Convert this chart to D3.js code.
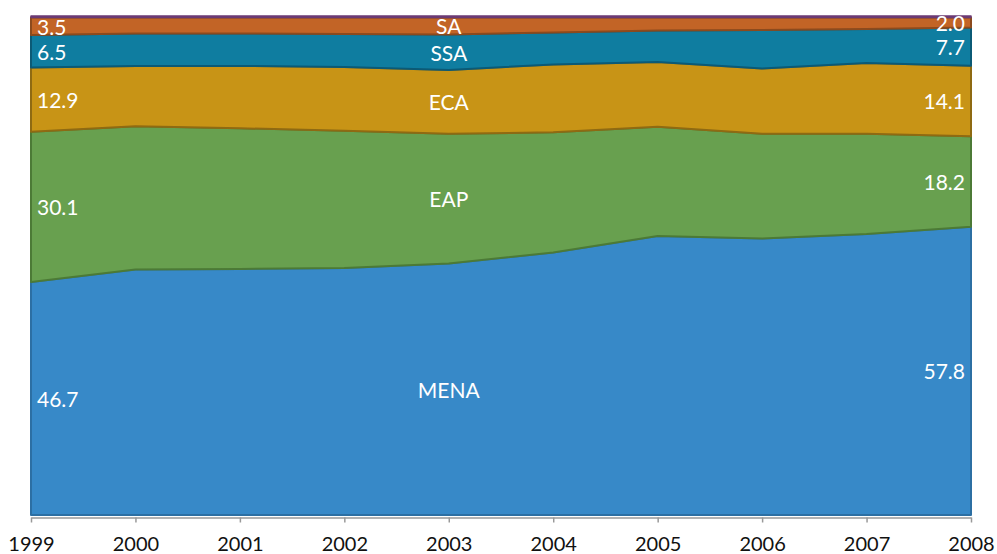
<!DOCTYPE html>
<html><head><meta charset="utf-8">
<script src="https://cdn.jsdelivr.net/npm/d3@7/dist/d3.min.js"></script>
<style>
html,body{margin:0;padding:0;background:#fff;}
svg{display:block;font-family:Lato,"Open Sans",sans-serif;}
</style></head>
<body><svg id="c" width="997" height="554"></svg>
<script>
const years = [1999,2000,2001,2002,2003,2004,2005,2006,2007,2008];
const seriesNames = ["MENA","EAP","ECA","SSA","SA","Other"];
const MENA  = [46.7,49.2,49.3,49.5,50.4,52.6,55.9,55.4,56.3,57.8];
const EAP   = [30.1,28.7,28.2,27.5,26.0,24.1,21.9,21.0,20.1,18.2];
const ECA   = [12.9,12.1,12.5,12.8,12.8,13.6,13.0,13.1,14.2,14.1];
const SSA   = [6.5,6.5,6.5,6.6,7.1,6.4,6.3,7.7,6.8,7.7];
const SA    = [3.5,3.2,3.2,3.3,3.4,3.0,2.6,2.5,2.3,2.0];
const Other = [0.3,0.3,0.3,0.3,0.3,0.3,0.3,0.3,0.3,0.3];
const fills   = ["#3789c8","#68a04f","#c89416","#0f7da0","#c26426","#6b3a74"];
const strokes = ["#2c6fa3","#4c7a36","#8f6a12","#0b5a76","#8c4a1d","#6b3a74"];
const labelYear = 2003;

const svg = d3.select("#c");
const x = d3.scaleLinear().domain([1999,2008]).range([31,971]);
const y = d3.scaleLinear().domain([0,1]).range([515,16]);

const arrays = [MENA,EAP,ECA,SSA,SA,Other];
const table = years.map((yr,i)=>{
  const o = {year:yr};
  seriesNames.forEach((n,k)=>o[n]=arrays[k][i]);
  return o;
});
const stack = d3.stack().keys(seriesNames).offset(d3.stackOffsetExpand);
const layers = stack(table);

const area = d3.area()
  .x(d=>x(d.data.year))
  .y0(d=>y(d[0]))
  .y1(d=>y(d[1]));

svg.append("g").selectAll("path").data(layers).join("path")
  .attr("d",area)
  .attr("fill",(d,i)=>fills[i])
  .attr("stroke",(d,i)=>strokes[i])
  .attr("stroke-width",(d,i)=> i===5 ? 1.5 : 2)
  .attr("stroke-linejoin","round");

// axis
const ax = d3.axisBottom(x).tickValues(years).tickFormat(d3.format("d")).tickSize(5).tickSizeOuter(0);
const g = svg.append("g").attr("transform","translate(0,517.5)").call(ax);
g.select(".domain").attr("stroke","#999").attr("stroke-width",1.5);
g.selectAll(".tick text").attr("fill","#111").attr("font-size",20).attr("y",0).attr("dy",0)
  .attr("transform","translate(0,33)").attr("font-family","Lato,sans-serif");
g.selectAll(".tick line").attr("stroke","#999").attr("stroke-width",1.5);

// labels
const lab = svg.append("g").attr("fill","#fff").attr("font-size",21);
const fmt = d3.format(".1f");
layers.forEach((L,i)=>{
  if(i===5) return;
  const first = L[0], last = L[L.length-1];
  const mid = L[years.indexOf(labelYear)];
  lab.append("text").attr("x",x(1999)+6).attr("y",y((first[0]+first[1])/2))
    .attr("dominant-baseline","central").text(fmt(arrays[i][0]));
  lab.append("text").attr("x",x(2008)-6).attr("y",y((last[0]+last[1])/2))
    .attr("dominant-baseline","central").attr("text-anchor","end").text(fmt(arrays[i][years.length-1]));
  lab.append("text").attr("x",x(labelYear)).attr("y",y((mid[0]+mid[1])/2))
    .attr("dominant-baseline","central").attr("text-anchor","middle").text(seriesNames[i]);
});
</script></body></html>
